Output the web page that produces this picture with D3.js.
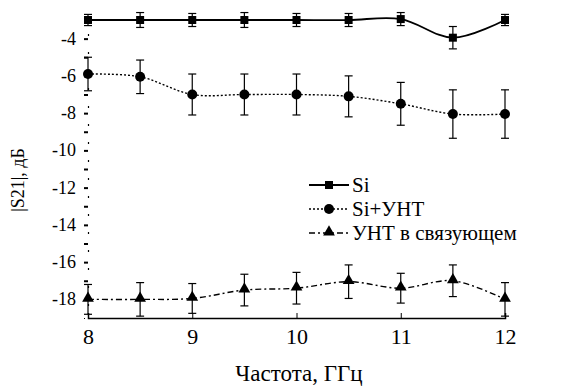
<!DOCTYPE html>
<html>
<head>
<meta charset="utf-8">
<script src="https://cdn.jsdelivr.net/npm/d3@7"></script>
<style>
body {margin:0; background:#fff}
</style>
</head>
<body>
<svg id="chart" width="569" height="388"></svg>
<script>
/*** Data ***/
var freq = [8, 8.5, 9, 9.5, 10, 10.5, 11, 11.5, 12]
var si      = [-3.0, -3.0, -3.0, -3.0, -3.0, -3.0, -2.95, -3.95, -3.0]
var siErr   = [0.3, 0.4, 0.35, 0.4, 0.35, 0.35, 0.35, 0.6, 0.3]
var siCnt    = [-5.9, -6.05, -7.0, -7.0, -7.0, -7.1, -7.5, -8.05, -8.05]
var siCntErr = [0.9, 0.9, 1.1, 1.1, 1.1, 1.1, 1.15, 1.3, 1.3]
var cnt    = [-18.0, -18.0, -17.95, -17.5, -17.4, -17.05, -17.4, -17.0, -18.0]
var cntErr = [0.8, 0.9, 0.8, 0.85, 0.85, 0.9, 0.8, 0.85, 0.9]
var xTicks = [8, 9, 10, 11, 12]
var yTicks = [-4, -6, -8, -10, -12, -14, -16, -18]
var names = ["Si", "Si+УНТ", "УНТ в связующем"]

var FONT = "'Liberation Serif', 'Times New Roman', 'DejaVu Serif', serif"

/*** Scales ***/
var svg = d3.select("#chart")
var x = d3.scaleLinear().domain([8, 12]).range([88, 505])
var y = d3.scaleLinear().domain([-3, -19]).range([20, 318])

var series = [
	{name: names[0], v: si, e: siErr, dash: null, mark: "square"},
	{name: names[1], v: siCnt, e: siCntErr, dash: "2,2", mark: "circle"},
	{name: names[2], v: cnt, e: cntErr, dash: "6,3,2,3", mark: "triangle"}
]

/*** Axes ***/
var gx = svg.append("g").attr("transform", "translate(0,318)")
	.call(d3.axisBottom(x).tickValues(xTicks).tickSize(-5).tickPadding(10).tickFormat(d3.format("d")))
gx.selectAll("text").attr("font-size", 22).style("font-family", FONT)
gx.select(".domain").attr("stroke-width", 1.5)

var gy = svg.append("g").attr("transform", "translate(88,0)")
	.call(d3.axisLeft(y).tickValues(d3.range(-4, -19, -1)).tickSize(4).tickFormat(""))
gy.select(".domain").attr("stroke", "#000").attr("stroke-dasharray", "2,16").attr("stroke-width", 1.2)
gy.selectAll(".tick line").attr("stroke-width", 2)
svg.append("g").selectAll("text").data(yTicks).enter().append("text")
	.attr("x", 76).attr("y", (d) => y(d) + 6)
	.attr("text-anchor", "end").attr("font-size", 18).style("font-family", FONT)
	.text((d) => d)

svg.append("text").attr("x", 299).attr("y", 381).attr("text-anchor", "middle")
	.attr("font-size", 23).style("font-family", FONT).text("Частота, ГГц")
svg.append("text").attr("transform", "translate(24,180) rotate(-90)").attr("text-anchor", "middle")
	.attr("font-size", 18).style("font-family", FONT).text("|S21|, дБ")

/*** Series ***/
var line = d3.line().x((d, i) => x(freq[i])).y((d) => y(d)).curve(d3.curveCatmullRom)

function marker(g, type, cx, cy) {
	if (type == "square") g.append("rect").attr("x", cx - 4).attr("y", cy - 4).attr("width", 8).attr("height", 8)
	else if (type == "circle") g.append("circle").attr("cx", cx).attr("cy", cy).attr("r", 5)
	else g.append("path").attr("d", d3.symbol().type(d3.symbolTriangle).size(60)()).attr("transform", "translate(" + cx + "," + (cy - 1) + ")")
}

series.forEach((s) => {
	var g = svg.append("g")
	g.append("path").datum(s.v).attr("d", line).attr("fill", "none").attr("stroke", "#000")
		.attr("stroke-width", s.dash ? 1.4 : 1.8).attr("stroke-dasharray", s.dash)
	s.v.forEach((v, i) => {
		var cx = x(freq[i]), y0 = y(v - s.e[i]), y1 = y(v + s.e[i])
		g.append("line").attr("x1", cx).attr("x2", cx).attr("y1", y0).attr("y2", y1).attr("stroke", "#000").attr("stroke-width", 1.2)
		g.append("line").attr("x1", cx - 4).attr("x2", cx + 4).attr("y1", y0).attr("y2", y0).attr("stroke", "#000").attr("stroke-width", 1.2)
		g.append("line").attr("x1", cx - 4).attr("x2", cx + 4).attr("y1", y1).attr("y2", y1).attr("stroke", "#000").attr("stroke-width", 1.2)
		marker(g, s.mark, cx, y(v))
	})
})

/*** Legend ***/
var lg = svg.append("g")
series.forEach((s, i) => {
	var ly = 185 + i * 24
	lg.append("line").attr("x1", 309).attr("x2", 349).attr("y1", ly).attr("y2", ly)
		.attr("stroke", "#000").attr("stroke-width", s.dash ? 1.4 : 1.8).attr("stroke-dasharray", s.dash)
	marker(lg, s.mark, 329, ly)
	lg.append("text").attr("x", 352).attr("y", ly + 7).attr("font-size", 21).style("font-family", FONT).text(s.name)
})
</script>
</body>
</html>
